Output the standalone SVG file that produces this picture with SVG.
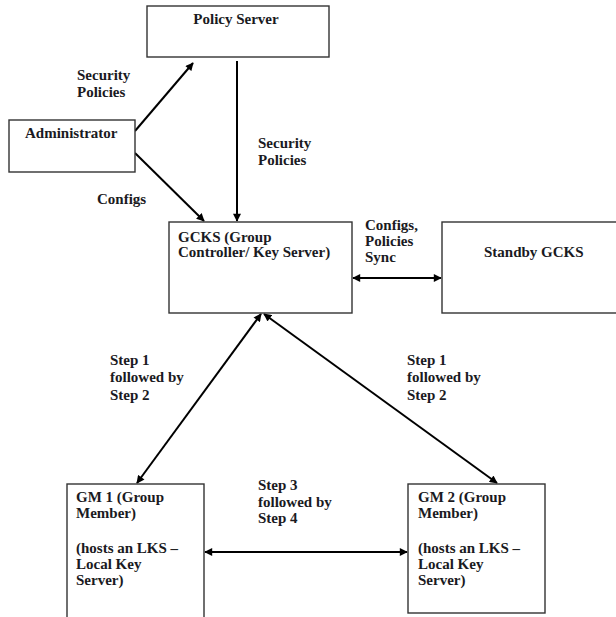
<svg xmlns="http://www.w3.org/2000/svg" width="616" height="617" viewBox="0 0 616 617">
<style>
.box{fill:#fff;stroke:#333;stroke-width:1.4}
.t{font-family:'Liberation Serif','DejaVu Serif','Times New Roman',serif;font-size:15px;font-weight:bold;fill:#1a1a22}
.c{fill:none;stroke:#000;stroke-width:2}
</style>
<defs>
<marker id="ah" viewBox="0 0 10 10" refX="9" refY="5" markerWidth="9" markerHeight="8" markerUnits="userSpaceOnUse" orient="auto-start-reverse">
<path d="M0,0 L10,5 L0,10 z" fill="#000"/>
</marker>
</defs>
<rect width="616" height="617" fill="#fff"/>
<g id="connectors">
<line class="c" x1="135" y1="131" x2="193" y2="63" marker-end="url(#ah)"/>
<line class="c" x1="135" y1="153" x2="204" y2="221" marker-end="url(#ah)"/>
<line class="c" x1="237" y1="61" x2="237" y2="221" marker-end="url(#ah)"/>
<line class="c" x1="353" y1="278" x2="441" y2="278" marker-start="url(#ah)" marker-end="url(#ah)"/>
<line class="c" x1="261" y1="314" x2="137" y2="483" marker-start="url(#ah)" marker-end="url(#ah)"/>
<line class="c" x1="264" y1="314" x2="497" y2="483" marker-start="url(#ah)" marker-end="url(#ah)"/>
<line class="c" x1="205" y1="552" x2="407" y2="552" marker-start="url(#ah)" marker-end="url(#ah)"/>
<text class="t" x="77" y="80">Security</text>
<text class="t" x="77" y="97">Policies</text>
<text class="t" x="258" y="148">Security</text>
<text class="t" x="258" y="165">Policies</text>
<text class="t" x="97" y="204">Configs</text>
<text class="t" x="365" y="230">Configs,</text>
<text class="t" x="365" y="246">Policies</text>
<text class="t" x="365" y="262">Sync</text>
<text class="t" x="110" y="365">Step 1</text>
<text class="t" x="110" y="382">followed by</text>
<text class="t" x="110" y="400">Step 2</text>
<text class="t" x="407" y="365">Step 1</text>
<text class="t" x="407" y="382">followed by</text>
<text class="t" x="407" y="400">Step 2</text>
<text class="t" x="258" y="490">Step 3</text>
<text class="t" x="258" y="507">followed by</text>
<text class="t" x="258" y="523">Step 4</text>
</g>
<g id="policy-server">
<rect class="box" x="147" y="6" width="182" height="51"/>
<text class="t" x="236" y="24" text-anchor="middle">Policy Server</text>
</g>
<g id="administrator">
<rect class="box" x="9" y="120" width="126" height="52"/>
<text class="t" x="25" y="138">Administrator</text>
</g>
<g id="gcks">
<rect class="box" x="169" y="222" width="183" height="91"/>
<text class="t" x="178" y="242">GCKS (Group</text>
<text class="t" x="178" y="257">Controller/ Key Server)</text>
</g>
<g id="standby-gcks">
<rect class="box" x="442" y="222" width="180" height="91"/>
<text class="t" x="484" y="257">Standby GCKS</text>
</g>
<g id="gm1">
<rect class="box" x="67" y="484" width="137" height="150"/>
<text class="t" x="76" y="502">GM 1 (Group</text>
<text class="t" x="76" y="518">Member)</text>
<text class="t" x="76" y="553">(hosts an LKS –</text>
<text class="t" x="76" y="569">Local Key</text>
<text class="t" x="76" y="585">Server)</text>
</g>
<g id="gm2">
<rect class="box" x="408" y="484" width="137" height="129"/>
<text class="t" x="418" y="502">GM 2 (Group</text>
<text class="t" x="418" y="518">Member)</text>
<text class="t" x="418" y="553">(hosts an LKS –</text>
<text class="t" x="418" y="569">Local Key</text>
<text class="t" x="418" y="585">Server)</text>
</g>
</svg>
